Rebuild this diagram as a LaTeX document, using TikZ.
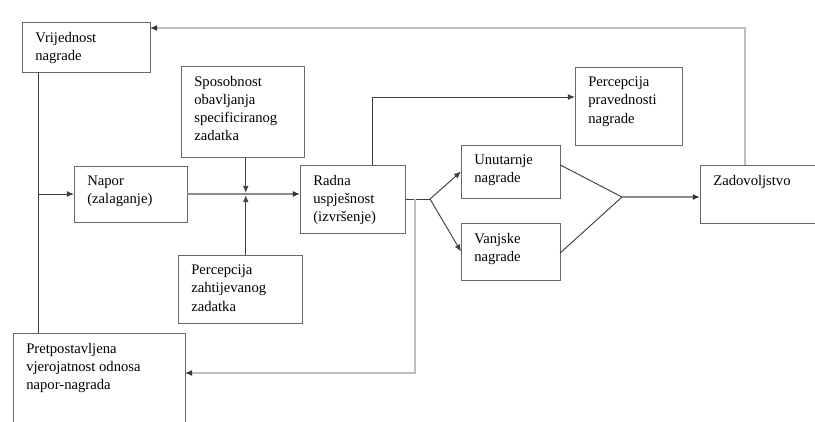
\documentclass[tikz,border=0pt]{standalone}
\usepackage{fontspec}
\setmainfont{Liberation Serif}
\usetikzlibrary{arrows.meta,positioning}

\newcommand{\boxtxt}[3]{\parbox[t][\dimexpr#2cm-0.6cm\relax][t]{\dimexpr#1cm-0.8cm\relax}{\raggedright #3}}

\begin{document}
\begin{tikzpicture}[x=0.03cm,y=-0.03cm,font=\fontsize{12.5}{15.5}\selectfont,
  >={Latex[length=6pt,width=5pt]},
  tip/.style={-{Latex[length=6pt,width=5pt,fill=black!80,color=black!80]}},
  blk/.style={draw=black!60,anchor=north west,inner xsep=0.4cm,inner ysep=0.3cm,outer sep=0pt},
  ln/.style={draw=black!75,line width=0.8pt},
  mn/.style={draw=black!45,line width=1.6pt},
  fb/.style={draw=black!25,line width=1pt}]

\useasboundingbox (0,0) rectangle (815,421);

% okviri
\node[blk] (vr) at (22,22) {\boxtxt{3.84}{1.5}{Vrijednost\\nagrade}};
\node[blk] (sp) at (181,66) {\boxtxt{3.69}{2.73}{Sposobnost\\obavljanja\\specificiranog\\zadatka}};
\node[blk] (na) at (74,166) {\boxtxt{3.39}{1.68}{Napor\\(zalaganje)}};
\node[blk] (ra) at (300,165) {\boxtxt{3.15}{2.04}{Radna\\uspješnost\\(izvršenje)}};
\node[blk] (pz) at (178,255) {\boxtxt{3.72}{2.04}{Percepcija\\zahtijevanog\\zadatka}};
\node[blk] (pp) at (575,67) {\boxtxt{3.21}{2.34}{Percepcija\\pravednosti\\nagrade}};
\node[blk] (un) at (461,145) {\boxtxt{2.97}{1.59}{Unutarnje\\nagrade}};
\node[blk] (va) at (461,223) {\boxtxt{2.97}{1.71}{Vanjske\\nagrade}};
\node[blk] (za) at (700,165) {\boxtxt{3.6}{1.74}{Zadovoljstvo}};
\node[blk] (pr) at (13,333) {\boxtxt{5.16}{2.76}{Pretpostavljena\\vjerojatnost odnosa\\napor-nagrada}};

% tocke
\coordinate (tap) at ([xshift=0.48cm]vr.south west);
\path (na.east) -- (na.east -| ra.west) coordinate[pos=0.52] (jn);
\coordinate (fork) at ([xshift=0.75cm]ra.east);
\coordinate (ap) at (622,197);

% veze
\draw[ln] (tap) -- (tap |- pr.north);
\draw[ln,->] (tap |- na.west) -- (na.west);
\draw[mn,tip] (na.east) -- (na.east -| ra.west);
\draw[ln,->,shorten >=1pt] (sp.south -| jn) -- (jn);
\draw[ln,->,shorten >=1pt] (pz.north -| jn) -- (jn);
\draw[ln,->] ([xshift=0.6cm]ra.north) |- ([yshift=0.27cm]pp.west);
\draw[ln] (ra.east) -- (fork);
\draw[ln,->] (fork) -- (un.west);
\draw[ln,->] (fork) -- (va.west);
\draw[ln] ([yshift=0.2cm]un.east) -- (ap) -- ([yshift=-0.05cm]va.east);
\draw[mn,tip] (ap) -- (ap -| za.west);

% povratne veze
\draw[fb,tip] ([xshift=1.35cm]za.north west) |- ([yshift=-0.18cm]vr.north east);
\draw[fb,tip] ([xshift=0.3cm]ra.east) |- ([yshift=0.18cm]pr.east);

\end{tikzpicture}
\end{document}
